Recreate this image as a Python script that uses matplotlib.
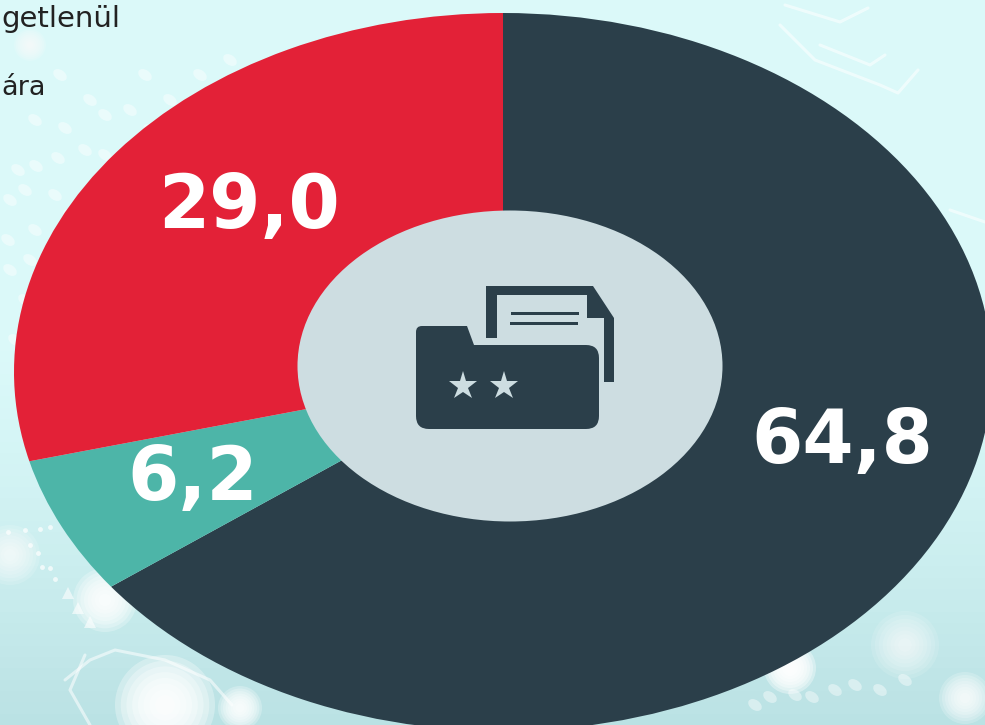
import numpy as np
import matplotlib
matplotlib.use("Agg")
import matplotlib.pyplot as plt
from matplotlib.patches import Ellipse, Polygon, FancyBboxPatch, Rectangle

plt.rcParams["font.family"] = ["DejaVu Sans"]

# share values, clockwise from the top
values = [64.8, 6.2, 29.0]
labels = ["64,8", "6,2", "29,0"]
colors = ["#2b3f4a", "#4db5a8", "#e32137"]
legend_bits = ["getlenül", "ára"]

W, H = 985, 725
fig = plt.figure(figsize=(W / 100, H / 100), dpi=100)

# background, pale cyan, brighter at the top right and greyer along the bottom
bg = fig.add_axes([0, 0, 1, 1])
low = np.array([0.71, 0.87, 0.88])
high = np.array([0.86, 0.98, 0.98])
gx = np.linspace(0, 1, 64)
gy = np.linspace(0, 1, 64)
mix = np.clip(1.25 - gy[:, None] ** 2 * 1.1 + 0 * gx[None, :], 0, 1)[:, :, None]
bg.imshow(low + (high - low) * mix, extent=[0, W, H, 0], aspect="auto")
bg.axis("off")


def glow(x, y, r, a=0.14):
    for k in np.linspace(1, 0.2, 8):
        bg.add_patch(Ellipse((x, y), 2 * r * k, 2 * r * k, color="white", alpha=a, lw=0))


for gx0, gy0, gr, ga in [(105, 600, 32, 0.25), (165, 705, 50, 0.3), (240, 708, 22, 0.25), (10, 555, 30, 0.14),
                         (790, 668, 26, 0.35), (965, 698, 26, 0.2), (905, 645, 34, 0.12), (30, 45, 16, 0.14)]:
    glow(gx0, gy0, gr, ga)

# white dabs of the printed texture, upper left and lower right
dabs = [(35, 120), (65, 128), (18, 170), (36, 166), (58, 158), (85, 150), (105, 155), (10, 200), (25, 190),
        (55, 195), (85, 200), (70, 215), (8, 240), (35, 230), (10, 270), (30, 260), (25, 300), (15, 340),
        (130, 110), (150, 130), (170, 100), (105, 115), (90, 100), (200, 75), (230, 60), (145, 75), (60, 75),
        (755, 705), (770, 697), (795, 695), (812, 697), (835, 690), (855, 685), (880, 690), (905, 680)]
for dx, dy in dabs:
    bg.add_patch(Ellipse((dx, dy), 15, 10, angle=35, color="white", alpha=0.42, lw=0))

# white line work behind the donut
line_sets = [[(780, 25), (815, 60), (880, 85), (898, 93), (918, 70)], [(785, 5), (840, 22), (868, 8)],
             [(820, 45), (870, 65), (885, 55)], [(950, 210), (985, 222)],
             [(65, 680), (90, 660), (115, 650), (165, 660), (210, 680), (232, 705)], [(85, 655), (70, 690), (90, 725)]]
for pts in line_sets:
    bg.plot([p[0] for p in pts], [p[1] for p in pts], color="white", lw=2.2, alpha=0.55, solid_capstyle="round")
bg.plot([8, 25, 40, 50, 30, 38, 42, 50, 55], [532, 530, 529, 527, 545, 553, 567, 568, 579], ls="none", marker="o", ms=3.5,
        color="white", alpha=0.7, mew=0)
bg.plot([68, 78, 90], [593, 608, 622], ls="none", marker="^", ms=9, color="white", alpha=0.6, mew=0)
bg.set_xlim(0, W)
bg.set_ylim(H, 0)

bg.text(120, 27, legend_bits[0], fontsize=21, color="#222222", va="baseline", ha="right")
bg.text(1, 95, legend_bits[1], fontsize=19.5, color="#222222", va="baseline", ha="left")

# donut, stretched into an ellipse and running past the bottom edge
cx, cy, rx, ry = 503, 372, 489, 359
ax = fig.add_axes([(cx - rx) / W, 1 - (cy + ry) / H, 2 * rx / W, 2 * ry / H])
ax.pie(values, colors=colors, startangle=90, counterclock=False, radius=1, wedgeprops={"linewidth": 0})
ax.set_aspect("auto")
ax.set_xlim(-1, 1)
ax.set_ylim(-1, 1)
ax.patch.set_alpha(0)

# front layer in pixel coords for hole, icon and numbers
fg = fig.add_axes([0, 0, 1, 1])
fg.axis("off")
fg.patch.set_alpha(0)
dark = "#2b3f4a"
hole = "#cddde1"
fg.add_patch(Ellipse((510, 366), 425, 311, color=hole, lw=0))

# back sheet of the icon
fg.add_patch(Polygon([(486, 286), (593, 286), (614, 318), (614, 382), (604, 382), (604, 318), (587, 318), (587, 295),
                      (497, 295), (497, 338), (486, 338)], color=dark, lw=0))
fg.add_patch(Rectangle((511, 312), 68, 3, color=dark, lw=0))
fg.add_patch(Rectangle((510, 322), 68, 3, color=dark, lw=0))
# folder
fg.add_patch(FancyBboxPatch((416, 345), 183, 84, boxstyle="round,pad=0,rounding_size=13", color=dark, lw=0))
fg.add_patch(FancyBboxPatch((416, 326), 30, 50, boxstyle="round,pad=0,rounding_size=6", color=dark, lw=0))
fg.add_patch(Polygon([(430, 326), (467, 326), (474, 345), (474, 352), (430, 352)], color=dark, lw=0))
fg.plot([463, 504], [386, 386], ls="none", marker="*", ms=21, color=hole, mew=0)
fg.set_xlim(0, W)
fg.set_ylim(H, 0)

fg.text(842, 463, labels[0], fontsize=53, fontweight="bold", color="white", ha="center", va="baseline")
fg.text(193, 500, labels[1], fontsize=53, fontweight="bold", color="white", ha="center", va="baseline")
fg.text(249, 228, labels[2], fontsize=53, fontweight="bold", color="white", ha="center", va="baseline")

fig.savefig("out.png", dpi=100)
